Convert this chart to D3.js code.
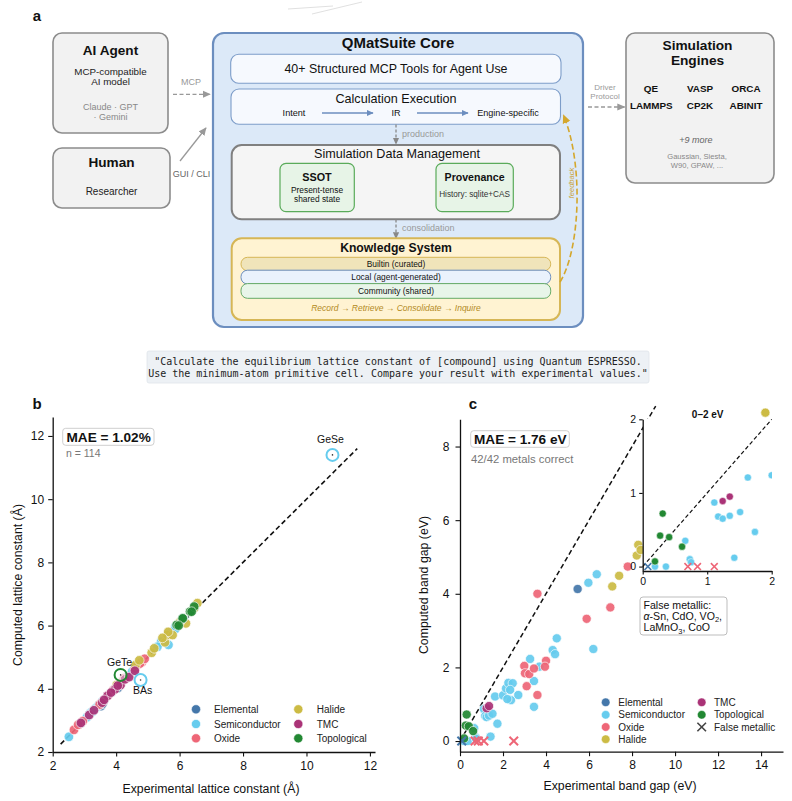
<!DOCTYPE html>
<html><head><meta charset="utf-8">
<script src="https://cdn.jsdelivr.net/npm/d3@7"></script>
<style>body{margin:0;background:#fff}svg{display:block}text{font-family:"Liberation Sans",Arial,sans-serif}</style>
</head><body><svg id="fig" width="792" height="801"></svg>
<script>
// ---------- DATA ----------
const catCodes = ["E","S","O","H","T","G"];
const catNames = ["Elemental","Semiconductor","Oxide","Halide","TMC","Topological"];
const catColors = ["#4477aa","#66ccee","#ee6677","#ccbb44","#aa3377","#228833"];

// panel b: lattice constants (Å)
const latCat = ["E","E","E","E","E","E","E","E","E",
 "S","S","S","S","S","S","S","S","S","S","S","S","S","S","S","S","S","S","S","S","S","S",
 "O","O","O","O","O","O","O","O","O","O","O","O","O","O",
 "H","H","H","H","H","H","H","H","H","H","H","H","H","H",
 "T","T","T","T","T","T","T","T","T","T","T","T","T",
 "G","G","G","G","G","G","G"];
const latExp = [3.29,3.52,3.57,3.61,4.05,5.43,5.66,3.16,2.87,
 2.51,3.08,3.19,3.35,3.45,3.57,3.87,4.36,4.51,5.45,5.42,5.65,5.65,5.87,6.06,6.10,6.48,5.87,4.20,3.25,6.13,5.30,
 2.67,2.95,3.75,3.90,4.08,4.21,4.26,4.59,4.70,4.81,4.75,4.90,3.48,2.80,
 4.02,4.61,5.12,5.54,5.62,5.78,6.20,6.56,5.64,5.46,6.00,4.73,5.20,6.46,
 2.89,3.15,3.30,3.56,3.73,3.96,4.14,4.28,4.41,4.59,3.84,4.05,3.62,
 5.91,6.09,6.33,6.46,6.38,6.10,5.97];
const latComp = [3.32,3.45,3.52,3.63,4.02,5.47,5.76,3.18,2.90,
 2.48,3.10,3.24,3.38,3.48,3.59,3.90,4.40,4.55,5.51,5.49,5.39,5.73,5.97,6.16,6.22,6.58,5.90,4.24,3.27,6.20,5.33,
 2.70,2.98,3.79,3.95,4.14,4.26,4.33,4.64,4.77,4.84,4.80,4.95,3.50,2.86,
 4.12,4.75,5.14,5.47,5.70,5.70,6.07,6.71,5.80,5.61,6.10,4.90,5.28,6.55,
 2.92,3.17,3.32,3.56,3.78,3.98,4.12,4.30,4.37,4.57,3.88,4.10,3.65,
 6.02,6.21,6.44,6.60,6.44,6.23,6.00];
const latOutlierName = ["GeSe","GeTe","BAs"];
const latOutlierCat = ["S","G","S"];
const latOutlierExp = [10.82,4.14,4.77];
const latOutlierComp = [11.40,4.44,4.28];
const latTicks = [2,4,6,8,10,12];

// panel c: band gaps (eV)
const gapCat = ["E",
 "S","S","S","S","S","S","S","S","S","S","S","S","S","S","S","S","S","S","S","S","S","S","S","S","S","S","S","S","S","S","S",
 "O","O","O","O","O","O","O","O","O","O","O","O",
 "H","H","H","H","H","H",
 "T","T",
 "G","G","G","G","G"];
const gapExp = [5.47,
 0.19,0.36,0.66,0.73,0.75,1.11,1.17,1.24,1.35,1.51,1.42,1.63,1.74,2.00,2.14,2.25,2.45,2.33,2.37,2.20,2.71,3.26,3.44,3.44,3.69,4.31,4.42,4.50,6.20,5.97,6.36,
 3.60,7.80,6.99,5.89,4.00,3.95,2.99,3.02,3.22,3.44,3.10,3.60,
 8.29,8.22,8.40,7.40,7.08,14.20,
 1.24,1.35,
 0.31,0.27,0.41,0.61,0.19];
const gapComp = [4.13,
 0.00,0.00,0.35,0.10,0.06,0.87,0.68,0.65,0.69,0.74,0.12,1.21,0.47,1.24,1.43,1.58,1.57,1.39,1.11,1.14,1.25,2.23,1.63,0.93,2.02,2.47,2.36,2.79,2.50,4.30,4.53,
 4.00,4.74,3.63,3.32,2.18,2.02,2.04,1.84,1.82,1.97,1.49,1.25,
 5.33,5.04,5.19,4.49,4.20,8.92,
 0.89,0.95,
 0.72,0.42,0.40,0.27,0.07];
const falseMetalCat = ["E","O","O","O","O"];
const falseMetalExp = [0.08,0.70,0.85,1.11,2.50];
const falseMetalComp = [0,0,0,0,0];
const gapXTicks = [0,2,4,6,8,10,12,14];
const gapYTicks = [0,2,4,6,8];
const insetTicks = [0,1,2];

// ---------- SETUP ----------
const svg = d3.select("#fig");
const defs = svg.append("defs");
function mkMarker(id,color,size){
  defs.append("marker").attr("id",id).attr("viewBox","0 0 10 10").attr("refX",9).attr("refY",5)
   .attr("markerWidth",size).attr("markerHeight",size).attr("markerUnits","userSpaceOnUse").attr("orient","auto")
   .append("path").attr("d","M0,0.5 L10,5 L0,9.5 z").attr("fill",color);
}
mkMarker("agray","#999",8); mkMarker("agray2","#888",7); mkMarker("ablue","#6c8ebf",7); mkMarker("agold","#d4a72c",9);

const colorOf = c => catColors[catCodes.indexOf(c)];
function box(x,y,w,h,r,fill,stroke,sw){
  return svg.append("rect").attr("x",x).attr("y",y).attr("width",w).attr("height",h).attr("rx",r).attr("ry",r)
   .attr("fill",fill).attr("stroke",stroke).attr("stroke-width",sw);
}
function T(x,y,s,o={}){
  return svg.append("text").attr("x",x).attr("y",y).attr("text-anchor",o.anchor||"middle")
   .attr("font-size",o.size||10).attr("font-weight",o.bold?"bold":null).attr("font-style",o.italic?"italic":null)
   .attr("fill",o.color||"#111").text(s);
}
function line(x1,y1,x2,y2,stroke,sw,dash,marker){
  const l=svg.append("line").attr("x1",x1).attr("y1",y1).attr("x2",x2).attr("y2",y2).attr("stroke",stroke).attr("stroke-width",sw);
  if(dash) l.attr("stroke-dasharray",dash);
  if(marker) l.attr("marker-end",`url(#${marker})`);
  return l;
}

// ---------- PANEL A ----------
T(37,21,"a",{size:15,bold:true});
// faint artifacts
line(288,9,333,6,"#d8d8d8",0.8); line(312,14,362,2,"#d8d8d8",0.8); line(368,136,392,125,"#c8d4e4",0.8);

box(53,33,115,100,9,"#f2f2f2","#8c8c8c",1.6);
T(110.5,55,"AI Agent",{size:13.6,bold:true});
T(110.5,74.5,"MCP-compatible",{size:9.8,color:"#222"});
T(110.5,85,"AI model",{size:9.8,color:"#222"});
T(110.5,109.5,"Claude · GPT",{size:9,color:"#888"});
T(110.5,119.5,"· Gemini",{size:9,color:"#888"});

box(53,148,117,60,9,"#f2f2f2","#8c8c8c",1.6);
T(111.5,167,"Human",{size:13.6,bold:true});
T(111.5,195,"Researcher",{size:10,color:"#222"});

T(191,84.5,"MCP",{size:9,color:"#999"});
line(173,94.3,210,94.3,"#999",1.3,"4,2.5","agray");
line(180,161,206,128,"#999",1.3,null,"agray");
T(191.5,177,"GUI / CLI",{size:9,color:"#666"});

// core
box(213,33,370,294,11,"#dce9f8","#6c8ebf",2.2);
T(398,48,"QMatSuite Core",{size:15,bold:true});
box(230.7,54.3,330.3,29,8,"#f6f9fe","#7d9dc9",1.1);
T(396,72.7,"40+ Structured MCP Tools for Agent Use",{size:12.4,color:"#111"});
box(231,89,329.5,35.3,8,"#f6f9fe","#7d9dc9",1.1);
T(396,102.7,"Calculation Execution",{size:12.6,color:"#111"});
T(294,116,"Intent",{size:9.1});
T(396,116,"IR",{size:9.1});
T(508,116,"Engine-specific",{size:9.1});
line(322,113,373,113,"#6c8ebf",1.3,null,"ablue");
line(417,113,468,113,"#6c8ebf",1.3,null,"ablue");

line(396,124.5,396,144,"#888",1.3,"3,2","agray2");
T(402,136.5,"production",{size:9,color:"#999",anchor:"start"});

box(231.7,145,328.3,74.3,10,"#f5f5f5","#808080",2);
T(397,158,"Simulation Data Management",{size:12.6,color:"#111"});
box(280,163.3,74.3,48.4,6,"#e7f4e7","#5aab5a",1.2);
T(317,180.5,"SSOT",{size:10.8,bold:true});
T(317,193,"Present-tense",{size:8.4,color:"#111"});
T(317,202,"shared state",{size:8.4,color:"#111"});
box(436,163.3,77.3,48.4,6,"#e7f4e7","#5aab5a",1.2);
T(474.6,180.5,"Provenance",{size:10.6,bold:true});
T(474.6,197,"History: sqlite+CAS",{size:8.2,color:"#333"});

line(396,219.5,396,238.5,"#888",1.3,"3,2","agray2");
T(402,230.5,"consolidation",{size:9,color:"#999",anchor:"start"});

box(231.7,238.3,328.3,81.7,10,"#fff3d2","#d6b656",2);
T(396,252,"Knowledge System",{size:12.2,bold:true});
box(241,257.3,309.7,13.4,6.5,"#f0e4ba","#d6b656",1);
box(241,270.2,309.7,13.8,6.5,"#eaf2fc","#6c8ebf",1);
box(241,283.6,309.7,14.7,6.5,"#e8f5e9","#66aa66",1);
T(396,267,"Builtin (curated)",{size:8.4,color:"#111"});
T(396,279.8,"Local (agent-generated)",{size:8.4,color:"#111"});
T(396,293.7,"Community (shared)",{size:8.4,color:"#111"});
T(396,310.7,"Record → Retrieve → Consolidate → Inquire",{size:8.5,italic:true,color:"#b38a1e"});

svg.append("path").attr("d","M560,282 C580,250 584,165 563.5,115").attr("fill","none")
 .attr("stroke","#d4a72c").attr("stroke-width",1.6).attr("stroke-dasharray","6,3").attr("marker-end","url(#agold)");
T(0,0,"feedback",{size:7.6,italic:true,color:"#c9a23a"}).attr("transform","translate(574,183) rotate(-90)");

// engines
box(626,33,148,150,9,"#f2f2f2","#8c8c8c",1.6);
T(697.5,50,"Simulation",{size:13.7,bold:true});
T(697.5,65,"Engines",{size:13.7,bold:true});
[["QE",651,92],["VASP",700,92],["ORCA",746,92],["LAMMPS",651.3,109],["CP2K",700,109],["ABINIT",746,109]]
 .forEach(d=>T(d[1],d[2],d[0],{size:9.9,bold:true}));
T(696,142.5,"+9 more",{size:9,italic:true,color:"#666"});
T(697,159,"Gaussian, Siesta,",{size:7.6,color:"#888"});
T(697,167.5,"W90, GPAW, ...",{size:7.6,color:"#888"});
T(605,90,"Driver",{size:8,color:"#999"});
T(605,99,"Protocol",{size:8,color:"#999"});
line(588,107,624.5,107,"#999",1.3,"4,2.5","agray");

// quote
box(147,351,502,32,2,"#edf1f5","#dfe4ea",0.8);
svg.append("text").attr("x",398).attr("y",364.5).attr("text-anchor","middle").attr("font-size",10)
 .style("font-family","'DejaVu Sans Mono',monospace").attr("fill","#222")
 .text('"Calculate the equilibrium lattice constant of [compound] using Quantum ESPRESSO.');
svg.append("text").attr("x",398).attr("y",376.8).attr("text-anchor","middle").attr("font-size",10)
 .style("font-family","'DejaVu Sans Mono',monospace").attr("fill","#222")
 .text('Use the minimum-atom primitive cell. Compare your result with experimental values."');

// ---------- axis helper ----------
function styleAxis(g,fs){
  g.select(".domain").attr("stroke","#111").attr("stroke-width",1.3);
  g.selectAll(".tick line").attr("stroke","#111").attr("stroke-width",1.1);
  g.selectAll(".tick text").attr("font-size",fs).attr("fill","#111").style("font-family","'Liberation Sans',Arial,sans-serif");
}
function cross(g,x,y,s,color,sw){
  g.append("path").attr("d",`M${x-s},${y-s}L${x+s},${y+s}M${x-s},${y+s}L${x+s},${y-s}`)
   .attr("stroke",color).attr("stroke-width",sw).attr("fill","none");
}
const intFmt = d3.format("d");

// ---------- PANEL B ----------
T(37,409,"b",{size:15,bold:true});
const xB = d3.scaleLinear().domain([2,12.16]).range([52.7,375]);
const yB = d3.scaleLinear().domain([2,12.6]).range([752,417]);
const gB = svg.append("g");
gB.append("line").attr("x1",xB(2.25)).attr("y1",yB(2.25)).attr("x2",xB(11.6)).attr("y2",yB(11.6))
 .attr("stroke","#111").attr("stroke-width",1.6).attr("stroke-dasharray","5,3");
const latRows = latExp.map((e,i)=>({c:latCat[i],x:e,y:latComp[i]}));
catCodes.forEach(code=>{
  gB.selectAll(null).data(latRows.filter(d=>d.c===code)).enter().append("circle")
   .attr("cx",d=>xB(d.x)).attr("cy",d=>yB(d.y)).attr("r",4.8)
   .attr("fill",colorOf(code)).attr("stroke","#fff").attr("stroke-width",0.7).attr("opacity",0.92);
});
latOutlierName.forEach((n,i)=>{
  const cx=xB(latOutlierExp[i]), cy=yB(latOutlierComp[i]);
  gB.append("circle").attr("cx",cx).attr("cy",cy).attr("r",6).attr("fill","#fff").attr("fill-opacity",0.4)
   .attr("stroke",colorOf(latOutlierCat[i])).attr("stroke-width",2);
  gB.append("circle").attr("cx",cx).attr("cy",cy).attr("r",0.8).attr("fill","#333");
});
T(xB(10.82)-2,443,"GeSe",{size:10.5,color:"#111"});
T(xB(4.14)-1,665.5,"GeTe",{size:10.5,color:"#111"});
T(xB(4.77)+2,694,"BAs",{size:10.5,color:"#111"});
const axBx = svg.append("g").attr("transform","translate(0,752)")
 .call(d3.axisBottom(xB).tickValues(latTicks).tickFormat(intFmt).tickSize(4.5).tickPadding(4.5).tickSizeOuter(0));
styleAxis(axBx,12);
const axBy = svg.append("g").attr("transform","translate(52.7,0)")
 .call(d3.axisLeft(yB).tickValues(latTicks).tickFormat(intFmt).tickSize(4.5).tickPadding(4).tickSizeOuter(0));
styleAxis(axBy,12);
T(211,792.5,"Experimental lattice constant (Å)",{size:12.3});
T(0,0,"Computed lattice constant (Å)",{size:12.3}).attr("transform","translate(22,585) rotate(-90)");
box(62.7,428.3,91.3,17,3,"#fff","#cfcfcf",1);
T(66.5,442,"MAE = 1.02%",{size:13.6,bold:true,anchor:"start"});
T(66,456.5,"n = 114",{size:10.5,color:"#777",anchor:"start"});
// legend b
catNames.forEach((n,i)=>{
  const col=Math.floor(i/3), row=i%3;
  const mx=[196,298.3][col], tx=[214,316.7][col], y=[709.3,724,738.3][row];
  svg.append("circle").attr("cx",mx).attr("cy",y).attr("r",4.6).attr("fill",catColors[i]).attr("stroke","#fff").attr("stroke-width",0.6);
  T(tx,y+3.6,catNames[i],{size:10,anchor:"start",color:"#222"});
});

// ---------- PANEL C ----------
T(473,409,"c",{size:15,bold:true});
const xC = d3.scaleLinear().domain([0,15.02]).range([460,783]);
const yC = d3.scaleLinear().domain([-0.29,8.74]).range([751.7,419.3]);
const gC = svg.append("g");
gC.append("line").attr("x1",xC(0)).attr("y1",yC(0)).attr("x2",xC(9.1)).attr("y2",yC(9.1))
 .attr("stroke","#111").attr("stroke-width",1.5).attr("stroke-dasharray","5,3");
const gapRows = gapExp.map((e,i)=>({c:gapCat[i],x:e,y:gapComp[i]}));
catCodes.forEach(code=>{
  gC.selectAll(null).data(gapRows.filter(d=>d.c===code)).enter().append("circle")
   .attr("cx",d=>xC(d.x)).attr("cy",d=>yC(d.y)).attr("r",4.6)
   .attr("fill",colorOf(code)).attr("stroke","#fff").attr("stroke-width",0.7).attr("opacity",0.92);
});
falseMetalExp.forEach((e,i)=>cross(gC,xC(e),yC(falseMetalComp[i]),4.3,colorOf(falseMetalCat[i]),2));
const axCx = svg.append("g").attr("transform","translate(0,751.7)")
 .call(d3.axisBottom(xC).tickValues(gapXTicks).tickFormat(intFmt).tickSize(4.5).tickPadding(4.5).tickSizeOuter(0));
styleAxis(axCx,12);
const axCy = svg.append("g").attr("transform","translate(460,0)")
 .call(d3.axisLeft(yC).tickValues(gapYTicks).tickFormat(intFmt).tickSize(4.5).tickPadding(6).tickSizeOuter(0));
styleAxis(axCy,12);
T(620,789.5,"Experimental band gap (eV)",{size:12.3});
T(0,0,"Computed band gap (eV)",{size:12.3}).attr("transform","translate(428,585) rotate(-90)");
box(470.7,430.7,98.6,16.6,3,"#fff","#cfcfcf",1);
T(474,443.5,"MAE = 1.76 eV",{size:13.6,bold:true,anchor:"start"});
T(471,462.5,"42/42 metals correct",{size:11.3,color:"#777",anchor:"start"});

// inset
const xI = d3.scaleLinear().domain([0,2]).range([642.7,771.7]);
const yI = d3.scaleLinear().domain([-0.06,2]).range([571,419.3]);
svg.append("rect").attr("x",643).attr("y",419).attr("width",129).attr("height",152).attr("fill","#fff");
defs.append("clipPath").attr("id","clipI").append("rect").attr("x",640).attr("y",410).attr("width",132).attr("height",165);
const gI = svg.append("g").attr("clip-path","url(#clipI)");
gI.append("line").attr("x1",xI(0)).attr("y1",yI(0)).attr("x2",xI(2)).attr("y2",yI(2))
 .attr("stroke","#111").attr("stroke-width",1.2).attr("stroke-dasharray","4,2.5");
catCodes.forEach(code=>{
  gI.selectAll(null).data(gapRows.filter(d=>d.c===code && d.x<=2.1 && d.y<=2.1)).enter().append("circle")
   .attr("cx",d=>xI(d.x)).attr("cy",d=>yI(d.y)).attr("r",3.6)
   .attr("fill",colorOf(code)).attr("stroke","#fff").attr("stroke-width",0.5);
});
falseMetalExp.forEach((e,i)=>{ if(e<=2) cross(gI,xI(e),yI(falseMetalComp[i]),3.4,colorOf(falseMetalCat[i]),1.6); });
const axIx = svg.append("g").attr("transform","translate(0,571)")
 .call(d3.axisBottom(xI).tickValues(insetTicks).tickFormat(intFmt).tickSize(3.5).tickPadding(3).tickSizeOuter(0));
styleAxis(axIx,10.5);
const axIy = svg.append("g").attr("transform","translate(642.7,0)")
 .call(d3.axisLeft(yI).tickValues(insetTicks).tickFormat(intFmt).tickSize(3.5).tickPadding(3).tickSizeOuter(0));
styleAxis(axIy,10.5);
T(707.7,417.5,"0–2 eV",{size:10,bold:true});
// LiF point drawn above inset (main data)
gapRows.filter(d=>d.y>8).forEach(d=>{
  svg.append("circle").attr("cx",xC(d.x)).attr("cy",yC(d.y)).attr("r",4.6).attr("fill",colorOf(d.c)).attr("stroke","#fff").attr("stroke-width",0.7);
});

// false metallic note
box(640,597,87,38,3,"#fff","#bdbdbd",1);
const fm = svg.append("text").attr("x",643.5).attr("font-size",10.6).attr("fill","#111");
fm.append("tspan").attr("x",643.5).attr("y",608.5).text("False metallic:");
const l2 = fm.append("tspan").attr("x",643.5).attr("y",619.8);
l2.append("tspan").attr("font-style","italic").text("α");
l2.append("tspan").text("-Sn, CdO, VO");
l2.append("tspan").attr("font-size",7.5).attr("dy",2.5).text("2");
l2.append("tspan").attr("dy",-2.5).text(",");
const l3 = fm.append("tspan").attr("x",643.5).attr("y",631);
l3.append("tspan").text("LaMnO");
l3.append("tspan").attr("font-size",7.5).attr("dy",2.5).text("3");
l3.append("tspan").attr("dy",-2.5).text(", CoO");

// legend c
const legC = [[0,0,0],[1,0,1],[2,0,2],[3,0,3],[4,1,0],[5,1,1]];
legC.forEach(([ci,col,row])=>{
  const mx=[605.7,701.7][col], tx=[618.3,714][col], y=[702.3,714.8,727,739.2][row];
  svg.append("circle").attr("cx",mx).attr("cy",y).attr("r",4.3).attr("fill",catColors[ci]).attr("stroke","#fff").attr("stroke-width",0.5);
  T(tx,y+3.6,catNames[ci],{size:10,anchor:"start",color:"#222"});
});
cross(svg,701.7,727,4.3,"#444",1.6);
T(714,730.6,"False metallic",{size:10,anchor:"start",color:"#222"});
</script></body></html>
